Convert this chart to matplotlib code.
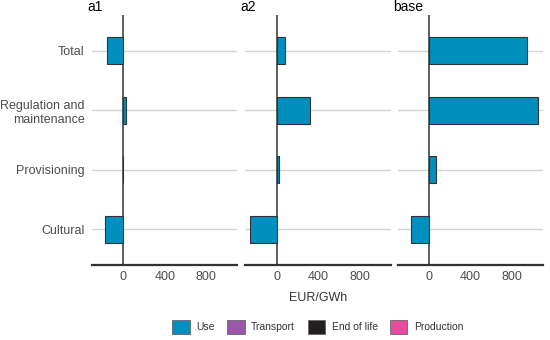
import matplotlib
matplotlib.use("Agg")
import matplotlib.pyplot as plt
from matplotlib.patches import Patch

plt.rcParams['font.family'] = ['Liberation Sans', 'DejaVu Sans']

# categories, bottom to top
categories = ["Cultural", "Provisioning", "Regulation and\nmaintenance", "Total"]
scenarios = ["a1", "a2", "base"]

# Use-phase values (EUR/GWh), per scenario, in category order
use_values = {
    "a1":   [-175, -5, 25, -155],
    "a2":   [-260, 22, 320, 85],
    "base": [-175, 70, 1050, 945],
}

legend_labels = ["Use", "Transport", "End of life", "Production"]
legend_colors = ["#0090bf", "#9a56a8", "#231f20", "#e84ca0"]

xticks = [0, 400, 800]

fig = plt.figure(figsize=(5.5, 3.4), dpi=100)

lefts = [91.7 / 550, 245 / 550, 397.5 / 550]
width = 145.6 / 550
bottom = 1 - 265 / 340
height = 250 / 340

ypos = list(range(len(categories)))

for i, sc in enumerate(scenarios):
    ax = fig.add_axes([lefts[i], bottom, width, height])
    for y in ypos:
        ax.axhline(y, color="#d3d3d3", lw=1.0, zorder=0)
    ax.axvline(0, color="#333333", lw=1.1, zorder=1)
    ax.barh(ypos, use_values[sc], height=0.45, color=legend_colors[0],
            edgecolor="#333333", linewidth=0.8, zorder=2)
    ax.set_xlim(-305, 1100)
    ax.set_ylim(-0.6, 3.6)
    ax.set_xticks(xticks)
    ax.set_xticklabels([str(t) for t in xticks])
    ax.tick_params(axis="both", length=0, labelsize=9, labelcolor="#4d4d4d", pad=4)
    ax.set_yticks(ypos)
    if i == 0:
        ax.set_yticklabels(categories, ha="right", multialignment="right")
        ax.tick_params(axis="y", pad=5)
    else:
        ax.set_yticklabels([])
    for s in ["top", "right", "left"]:
        ax.spines[s].set_visible(False)
    ax.spines["bottom"].set_color("#333333")
    ax.spines["bottom"].set_linewidth(1.6)
    ax.set_title(sc, loc="left", fontsize=10, pad=3, x=-0.03)

fig.text((245 + 73) / 550, 1 - 298 / 340, "EUR/GWh", ha="center", va="center",
         fontsize=9, color="#333333")

handles = [Patch(facecolor=c, edgecolor="#666666", linewidth=0.6) for c in legend_colors]
fig.legend(handles, legend_labels, loc="center", bbox_to_anchor=(318 / 550, 1 - 327 / 340),
           ncol=4, frameon=False, fontsize=7.5, handlelength=1.65, handleheight=1.65,
           handletextpad=0.65, columnspacing=1.2, labelcolor="#333333")

fig.savefig("out.png", dpi=100)
